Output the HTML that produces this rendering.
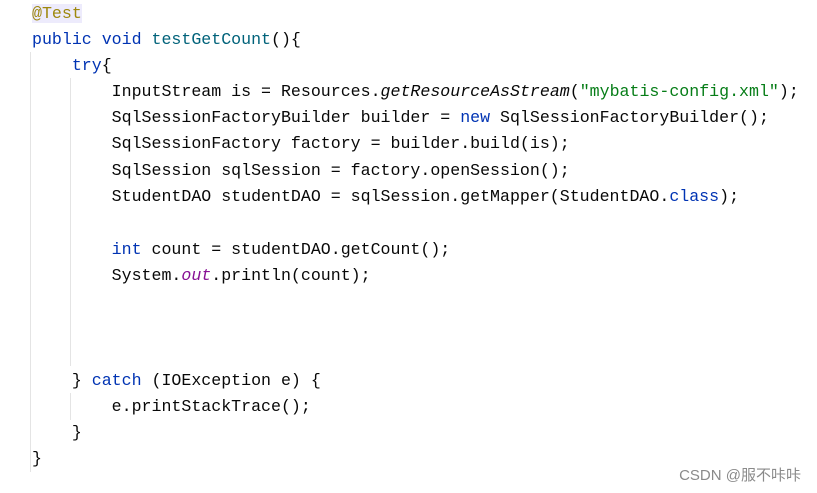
<!DOCTYPE html>
<html><head><style>
body{margin:0;width:817px;height:493px;background:#fff;position:relative;overflow:hidden;font-family:"Liberation Mono",monospace;font-size:16.6px;color:#080808}
.l{position:absolute;left:32px;height:26px;line-height:26px;white-space:pre}
.k{color:#0033b3}.a{color:#9e880d}.s{color:#067d17}.m{color:#00627a}.f{color:#871094;font-style:italic}.i{font-style:italic}
.g{position:absolute;width:1px;background:#e4e4e4}
.w{position:absolute;right:16px;top:464px;font-family:"Liberation Sans","Noto Sans CJK SC",sans-serif;font-size:15px;color:#8a8a8a}
</style></head><body>
<div class="g" style="left:30px;top:52px;height:420px"></div>
<div class="g" style="left:70px;top:78px;height:288px"></div>
<div class="g" style="left:70px;top:393px;height:27px"></div>
<div class="l" style="top:1px"><span class="a" style="background:#edebfc">@Test</span></div>
<div class="l" style="top:27px"><span class="k">public void </span><span class="m">testGetCount</span>(){</div>
<div class="l" style="top:53px">    <span class="k">try</span>{</div>
<div class="l" style="top:79px">        InputStream is = Resources.<span class="i">getResourceAsStream</span>(<span class="s">"mybatis-config.xml"</span>);</div>
<div class="l" style="top:105px">        SqlSessionFactoryBuilder builder = <span class="k">new</span> SqlSessionFactoryBuilder();</div>
<div class="l" style="top:131px">        SqlSessionFactory factory = builder.build(is);</div>
<div class="l" style="top:158px">        SqlSession sqlSession = factory.openSession();</div>
<div class="l" style="top:184px">        StudentDAO studentDAO = sqlSession.getMapper(StudentDAO.<span class="k">class</span>);</div>
<div class="l" style="top:237px">        <span class="k">int</span> count = studentDAO.getCount();</div>
<div class="l" style="top:263px">        System.<span class="f">out</span>.println(count);</div>
<div class="l" style="top:368px">    } <span class="k">catch</span> (IOException e) {</div>
<div class="l" style="top:394px">        e.printStackTrace();</div>
<div class="l" style="top:420px">    }</div>
<div class="l" style="top:446px">}</div>
<div class="w">CSDN @服不咔咔</div>
</body></html>
